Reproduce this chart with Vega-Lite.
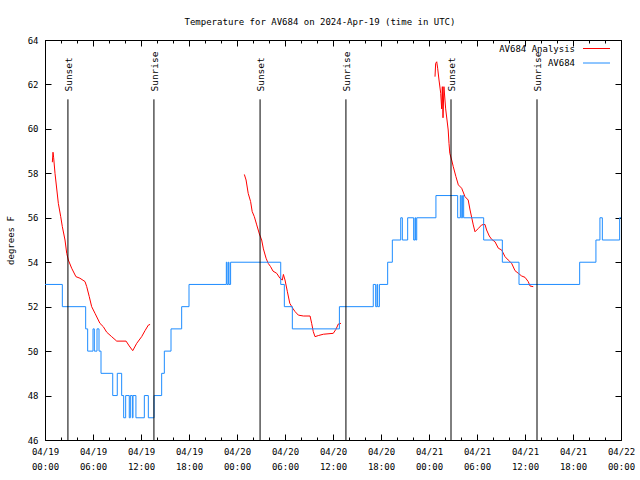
{
  "$schema": "https://vega.github.io/schema/vega-lite/v6.json",
  "width": 576,
  "height": 400,
  "autosize": {"type": "none"},
  "padding": {"left": 45, "top": 40, "right": 19, "bottom": 40},
  "background": "white",
  "title": {"text": "Temperature for AV684 on 2024-Apr-19 (time in UTC)", "font": "DejaVu Sans Mono", "fontSize": 9, "fontWeight": "normal", "anchor": "middle", "frame": "group", "dx": -13, "offset": 9, "color": "black"},
  "config": {
    "view": {"stroke": "black", "strokeWidth": 1},
    "font": "DejaVu Sans Mono",
    "axis": {"labelFont": "DejaVu Sans Mono", "labelFontSize": 9, "labelColor": "black", "tickColor": "black", "domain": false, "grid": false, "titleFont": "DejaVu Sans Mono", "titleFontSize": 9, "titleFontWeight": "normal", "titleColor": "black"},
    "legend": {"orient": "none", "legendX": 544, "legendY": 1, "padding": 0, "symbolType": "M-2,0H2", "symbolSize": 182.25, "symbolStrokeWidth": 1, "labelAlign": "right", "labelOffset": -29, "rowPadding": 1.5, "labelFont": "DejaVu Sans Mono", "labelFontSize": 9, "labelColor": "black"}
  },
  "datasets": {
    "red": [
      {"t": "2024-04-19T00:55:00Z", "v": 58.5, "s": "AV684 Analysis", "g": 1},
      {"t": "2024-04-19T01:00:00Z", "v": 58.95, "s": "AV684 Analysis", "g": 1},
      {"t": "2024-04-19T01:05:00Z", "v": 58.7, "s": "AV684 Analysis", "g": 1},
      {"t": "2024-04-19T01:15:00Z", "v": 58.0, "s": "AV684 Analysis", "g": 1},
      {"t": "2024-04-19T01:40:00Z", "v": 56.65, "s": "AV684 Analysis", "g": 1},
      {"t": "2024-04-19T01:58:00Z", "v": 56.05, "s": "AV684 Analysis", "g": 1},
      {"t": "2024-04-19T02:10:00Z", "v": 55.6, "s": "AV684 Analysis", "g": 1},
      {"t": "2024-04-19T02:30:00Z", "v": 55.0, "s": "AV684 Analysis", "g": 1},
      {"t": "2024-04-19T02:43:00Z", "v": 54.4, "s": "AV684 Analysis", "g": 1},
      {"t": "2024-04-19T02:55:00Z", "v": 54.1, "s": "AV684 Analysis", "g": 1},
      {"t": "2024-04-19T03:20:00Z", "v": 53.73, "s": "AV684 Analysis", "g": 1},
      {"t": "2024-04-19T03:52:00Z", "v": 53.35, "s": "AV684 Analysis", "g": 1},
      {"t": "2024-04-19T04:22:00Z", "v": 53.28, "s": "AV684 Analysis", "g": 1},
      {"t": "2024-04-19T05:00:00Z", "v": 53.13, "s": "AV684 Analysis", "g": 1},
      {"t": "2024-04-19T05:13:00Z", "v": 52.9, "s": "AV684 Analysis", "g": 1},
      {"t": "2024-04-19T05:32:00Z", "v": 52.45, "s": "AV684 Analysis", "g": 1},
      {"t": "2024-04-19T05:50:00Z", "v": 52.0, "s": "AV684 Analysis", "g": 1},
      {"t": "2024-04-19T06:15:00Z", "v": 51.7, "s": "AV684 Analysis", "g": 1},
      {"t": "2024-04-19T06:52:00Z", "v": 51.25, "s": "AV684 Analysis", "g": 1},
      {"t": "2024-04-19T07:17:00Z", "v": 51.1, "s": "AV684 Analysis", "g": 1},
      {"t": "2024-04-19T07:43:00Z", "v": 50.85, "s": "AV684 Analysis", "g": 1},
      {"t": "2024-04-19T08:20:00Z", "v": 50.65, "s": "AV684 Analysis", "g": 1},
      {"t": "2024-04-19T08:58:00Z", "v": 50.45, "s": "AV684 Analysis", "g": 1},
      {"t": "2024-04-19T10:08:00Z", "v": 50.45, "s": "AV684 Analysis", "g": 1},
      {"t": "2024-04-19T10:32:00Z", "v": 50.23, "s": "AV684 Analysis", "g": 1},
      {"t": "2024-04-19T10:58:00Z", "v": 50.02, "s": "AV684 Analysis", "g": 1},
      {"t": "2024-04-19T11:28:00Z", "v": 50.35, "s": "AV684 Analysis", "g": 1},
      {"t": "2024-04-19T12:05:00Z", "v": 50.65, "s": "AV684 Analysis", "g": 1},
      {"t": "2024-04-19T12:30:00Z", "v": 50.92, "s": "AV684 Analysis", "g": 1},
      {"t": "2024-04-19T12:55:00Z", "v": 51.17, "s": "AV684 Analysis", "g": 1},
      {"t": "2024-04-19T13:08:00Z", "v": 51.2, "s": "AV684 Analysis", "g": 1},
      {"t": "2024-04-20T00:55:00Z", "v": 57.95, "s": "AV684 Analysis", "g": 2},
      {"t": "2024-04-20T01:08:00Z", "v": 57.7, "s": "AV684 Analysis", "g": 2},
      {"t": "2024-04-20T01:24:00Z", "v": 57.1, "s": "AV684 Analysis", "g": 2},
      {"t": "2024-04-20T01:42:00Z", "v": 56.73, "s": "AV684 Analysis", "g": 2},
      {"t": "2024-04-20T01:54:00Z", "v": 56.28, "s": "AV684 Analysis", "g": 2},
      {"t": "2024-04-20T02:10:00Z", "v": 56.05, "s": "AV684 Analysis", "g": 2},
      {"t": "2024-04-20T02:28:00Z", "v": 55.68, "s": "AV684 Analysis", "g": 2},
      {"t": "2024-04-20T02:48:00Z", "v": 55.27, "s": "AV684 Analysis", "g": 2},
      {"t": "2024-04-20T03:05:00Z", "v": 55.0, "s": "AV684 Analysis", "g": 2},
      {"t": "2024-04-20T03:18:00Z", "v": 54.6, "s": "AV684 Analysis", "g": 2},
      {"t": "2024-04-20T03:38:00Z", "v": 54.18, "s": "AV684 Analysis", "g": 2},
      {"t": "2024-04-20T03:54:00Z", "v": 53.95, "s": "AV684 Analysis", "g": 2},
      {"t": "2024-04-20T04:12:00Z", "v": 53.8, "s": "AV684 Analysis", "g": 2},
      {"t": "2024-04-20T04:30:00Z", "v": 53.6, "s": "AV684 Analysis", "g": 2},
      {"t": "2024-04-20T04:58:00Z", "v": 53.5, "s": "AV684 Analysis", "g": 2},
      {"t": "2024-04-20T05:22:00Z", "v": 53.28, "s": "AV684 Analysis", "g": 2},
      {"t": "2024-04-20T05:40:00Z", "v": 53.2, "s": "AV684 Analysis", "g": 2},
      {"t": "2024-04-20T05:48:00Z", "v": 53.45, "s": "AV684 Analysis", "g": 2},
      {"t": "2024-04-20T06:00:00Z", "v": 53.2, "s": "AV684 Analysis", "g": 2},
      {"t": "2024-04-20T06:18:00Z", "v": 52.67, "s": "AV684 Analysis", "g": 2},
      {"t": "2024-04-20T06:36:00Z", "v": 52.15, "s": "AV684 Analysis", "g": 2},
      {"t": "2024-04-20T06:58:00Z", "v": 51.93, "s": "AV684 Analysis", "g": 2},
      {"t": "2024-04-20T07:15:00Z", "v": 51.78, "s": "AV684 Analysis", "g": 2},
      {"t": "2024-04-20T07:40:00Z", "v": 51.62, "s": "AV684 Analysis", "g": 2},
      {"t": "2024-04-20T08:18:00Z", "v": 51.58, "s": "AV684 Analysis", "g": 2},
      {"t": "2024-04-20T09:08:00Z", "v": 51.58, "s": "AV684 Analysis", "g": 2},
      {"t": "2024-04-20T09:20:00Z", "v": 51.25, "s": "AV684 Analysis", "g": 2},
      {"t": "2024-04-20T09:32:00Z", "v": 50.88, "s": "AV684 Analysis", "g": 2},
      {"t": "2024-04-20T09:45:00Z", "v": 50.65, "s": "AV684 Analysis", "g": 2},
      {"t": "2024-04-20T10:10:00Z", "v": 50.7, "s": "AV684 Analysis", "g": 2},
      {"t": "2024-04-20T10:48:00Z", "v": 50.76, "s": "AV684 Analysis", "g": 2},
      {"t": "2024-04-20T12:02:00Z", "v": 50.8, "s": "AV684 Analysis", "g": 2},
      {"t": "2024-04-20T12:22:00Z", "v": 50.98, "s": "AV684 Analysis", "g": 2},
      {"t": "2024-04-20T12:40:00Z", "v": 51.22, "s": "AV684 Analysis", "g": 2},
      {"t": "2024-04-20T13:00:00Z", "v": 51.25, "s": "AV684 Analysis", "g": 2},
      {"t": "2024-04-21T00:45:00Z", "v": 62.35, "s": "AV684 Analysis", "g": 3},
      {"t": "2024-04-21T00:50:00Z", "v": 62.95, "s": "AV684 Analysis", "g": 3},
      {"t": "2024-04-21T00:58:00Z", "v": 63.02, "s": "AV684 Analysis", "g": 3},
      {"t": "2024-04-21T01:05:00Z", "v": 62.73, "s": "AV684 Analysis", "g": 3},
      {"t": "2024-04-21T01:15:00Z", "v": 62.2, "s": "AV684 Analysis", "g": 3},
      {"t": "2024-04-21T01:28:00Z", "v": 61.6, "s": "AV684 Analysis", "g": 3},
      {"t": "2024-04-21T01:35:00Z", "v": 60.9, "s": "AV684 Analysis", "g": 3},
      {"t": "2024-04-21T01:40:00Z", "v": 61.9, "s": "AV684 Analysis", "g": 3},
      {"t": "2024-04-21T01:45:00Z", "v": 60.5, "s": "AV684 Analysis", "g": 3},
      {"t": "2024-04-21T01:52:00Z", "v": 61.9, "s": "AV684 Analysis", "g": 3},
      {"t": "2024-04-21T02:05:00Z", "v": 60.9, "s": "AV684 Analysis", "g": 3},
      {"t": "2024-04-21T02:15:00Z", "v": 60.4, "s": "AV684 Analysis", "g": 3},
      {"t": "2024-04-21T02:24:00Z", "v": 59.95, "s": "AV684 Analysis", "g": 3},
      {"t": "2024-04-21T02:30:00Z", "v": 59.35, "s": "AV684 Analysis", "g": 3},
      {"t": "2024-04-21T02:36:00Z", "v": 58.9, "s": "AV684 Analysis", "g": 3},
      {"t": "2024-04-21T02:50:00Z", "v": 58.6, "s": "AV684 Analysis", "g": 3},
      {"t": "2024-04-21T03:02:00Z", "v": 58.3, "s": "AV684 Analysis", "g": 3},
      {"t": "2024-04-21T03:22:00Z", "v": 57.85, "s": "AV684 Analysis", "g": 3},
      {"t": "2024-04-21T03:40:00Z", "v": 57.48, "s": "AV684 Analysis", "g": 3},
      {"t": "2024-04-21T04:05:00Z", "v": 57.33, "s": "AV684 Analysis", "g": 3},
      {"t": "2024-04-21T04:30:00Z", "v": 56.95, "s": "AV684 Analysis", "g": 3},
      {"t": "2024-04-21T04:54:00Z", "v": 56.8, "s": "AV684 Analysis", "g": 3},
      {"t": "2024-04-21T05:08:00Z", "v": 56.35, "s": "AV684 Analysis", "g": 3},
      {"t": "2024-04-21T05:32:00Z", "v": 55.68, "s": "AV684 Analysis", "g": 3},
      {"t": "2024-04-21T05:45:00Z", "v": 55.37, "s": "AV684 Analysis", "g": 3},
      {"t": "2024-04-21T06:10:00Z", "v": 55.52, "s": "AV684 Analysis", "g": 3},
      {"t": "2024-04-21T06:35:00Z", "v": 55.68, "s": "AV684 Analysis", "g": 3},
      {"t": "2024-04-21T07:00:00Z", "v": 55.7, "s": "AV684 Analysis", "g": 3},
      {"t": "2024-04-21T07:12:00Z", "v": 55.45, "s": "AV684 Analysis", "g": 3},
      {"t": "2024-04-21T07:32:00Z", "v": 55.18, "s": "AV684 Analysis", "g": 3},
      {"t": "2024-04-21T07:50:00Z", "v": 55.03, "s": "AV684 Analysis", "g": 3},
      {"t": "2024-04-21T08:15:00Z", "v": 54.92, "s": "AV684 Analysis", "g": 3},
      {"t": "2024-04-21T08:40:00Z", "v": 54.63, "s": "AV684 Analysis", "g": 3},
      {"t": "2024-04-21T09:05:00Z", "v": 54.55, "s": "AV684 Analysis", "g": 3},
      {"t": "2024-04-21T09:30:00Z", "v": 54.25, "s": "AV684 Analysis", "g": 3},
      {"t": "2024-04-21T09:54:00Z", "v": 54.1, "s": "AV684 Analysis", "g": 3},
      {"t": "2024-04-21T10:20:00Z", "v": 53.95, "s": "AV684 Analysis", "g": 3},
      {"t": "2024-04-21T10:45:00Z", "v": 53.62, "s": "AV684 Analysis", "g": 3},
      {"t": "2024-04-21T11:10:00Z", "v": 53.5, "s": "AV684 Analysis", "g": 3},
      {"t": "2024-04-21T11:35:00Z", "v": 53.38, "s": "AV684 Analysis", "g": 3},
      {"t": "2024-04-21T12:00:00Z", "v": 53.32, "s": "AV684 Analysis", "g": 3},
      {"t": "2024-04-21T12:24:00Z", "v": 53.13, "s": "AV684 Analysis", "g": 3},
      {"t": "2024-04-21T12:38:00Z", "v": 52.93, "s": "AV684 Analysis", "g": 3},
      {"t": "2024-04-21T13:02:00Z", "v": 52.9, "s": "AV684 Analysis", "g": 3}
    ],
    "blue": [
      {"t": "2024-04-19T00:00:00Z", "v": 53, "s": "AV684"},
      {"t": "2024-04-19T02:10:00Z", "v": 52, "s": "AV684"},
      {"t": "2024-04-19T05:05:00Z", "v": 51, "s": "AV684"},
      {"t": "2024-04-19T05:20:00Z", "v": 50, "s": "AV684"},
      {"t": "2024-04-19T06:00:00Z", "v": 51, "s": "AV684"},
      {"t": "2024-04-19T06:10:00Z", "v": 50, "s": "AV684"},
      {"t": "2024-04-19T06:30:00Z", "v": 51, "s": "AV684"},
      {"t": "2024-04-19T06:45:00Z", "v": 50, "s": "AV684"},
      {"t": "2024-04-19T07:00:00Z", "v": 49, "s": "AV684"},
      {"t": "2024-04-19T08:28:00Z", "v": 48, "s": "AV684"},
      {"t": "2024-04-19T09:02:00Z", "v": 49, "s": "AV684"},
      {"t": "2024-04-19T09:35:00Z", "v": 48, "s": "AV684"},
      {"t": "2024-04-19T09:50:00Z", "v": 47, "s": "AV684"},
      {"t": "2024-04-19T10:05:00Z", "v": 48, "s": "AV684"},
      {"t": "2024-04-19T10:32:00Z", "v": 47, "s": "AV684"},
      {"t": "2024-04-19T10:40:00Z", "v": 48, "s": "AV684"},
      {"t": "2024-04-19T10:55:00Z", "v": 47, "s": "AV684"},
      {"t": "2024-04-19T11:00:00Z", "v": 48, "s": "AV684"},
      {"t": "2024-04-19T11:22:00Z", "v": 47, "s": "AV684"},
      {"t": "2024-04-19T12:25:00Z", "v": 48, "s": "AV684"},
      {"t": "2024-04-19T12:55:00Z", "v": 47, "s": "AV684"},
      {"t": "2024-04-19T13:38:00Z", "v": 48, "s": "AV684"},
      {"t": "2024-04-19T14:35:00Z", "v": 49, "s": "AV684"},
      {"t": "2024-04-19T14:55:00Z", "v": 50, "s": "AV684"},
      {"t": "2024-04-19T15:45:00Z", "v": 51, "s": "AV684"},
      {"t": "2024-04-19T17:05:00Z", "v": 52, "s": "AV684"},
      {"t": "2024-04-19T18:00:00Z", "v": 53, "s": "AV684"},
      {"t": "2024-04-19T22:40:00Z", "v": 54, "s": "AV684"},
      {"t": "2024-04-19T22:45:00Z", "v": 53, "s": "AV684"},
      {"t": "2024-04-19T22:55:00Z", "v": 54, "s": "AV684"},
      {"t": "2024-04-19T23:00:00Z", "v": 53, "s": "AV684"},
      {"t": "2024-04-19T23:12:00Z", "v": 54, "s": "AV684"},
      {"t": "2024-04-20T05:28:00Z", "v": 53, "s": "AV684"},
      {"t": "2024-04-20T05:55:00Z", "v": 52, "s": "AV684"},
      {"t": "2024-04-20T06:55:00Z", "v": 51, "s": "AV684"},
      {"t": "2024-04-20T12:48:00Z", "v": 52, "s": "AV684"},
      {"t": "2024-04-20T17:02:00Z", "v": 53, "s": "AV684"},
      {"t": "2024-04-20T17:20:00Z", "v": 52, "s": "AV684"},
      {"t": "2024-04-20T17:30:00Z", "v": 53, "s": "AV684"},
      {"t": "2024-04-20T17:35:00Z", "v": 52, "s": "AV684"},
      {"t": "2024-04-20T17:48:00Z", "v": 53, "s": "AV684"},
      {"t": "2024-04-20T18:50:00Z", "v": 54, "s": "AV684"},
      {"t": "2024-04-20T19:25:00Z", "v": 55, "s": "AV684"},
      {"t": "2024-04-20T20:28:00Z", "v": 56, "s": "AV684"},
      {"t": "2024-04-20T20:40:00Z", "v": 55, "s": "AV684"},
      {"t": "2024-04-20T21:20:00Z", "v": 56, "s": "AV684"},
      {"t": "2024-04-20T22:05:00Z", "v": 55, "s": "AV684"},
      {"t": "2024-04-20T22:15:00Z", "v": 56, "s": "AV684"},
      {"t": "2024-04-20T22:20:00Z", "v": 55, "s": "AV684"},
      {"t": "2024-04-20T22:28:00Z", "v": 56, "s": "AV684"},
      {"t": "2024-04-21T00:52:00Z", "v": 57, "s": "AV684"},
      {"t": "2024-04-21T03:35:00Z", "v": 56, "s": "AV684"},
      {"t": "2024-04-21T03:55:00Z", "v": 57, "s": "AV684"},
      {"t": "2024-04-21T04:02:00Z", "v": 56, "s": "AV684"},
      {"t": "2024-04-21T04:12:00Z", "v": 57, "s": "AV684"},
      {"t": "2024-04-21T04:20:00Z", "v": 56, "s": "AV684"},
      {"t": "2024-04-21T06:50:00Z", "v": 55, "s": "AV684"},
      {"t": "2024-04-21T09:10:00Z", "v": 54, "s": "AV684"},
      {"t": "2024-04-21T11:15:00Z", "v": 53, "s": "AV684"},
      {"t": "2024-04-21T18:50:00Z", "v": 54, "s": "AV684"},
      {"t": "2024-04-21T20:52:00Z", "v": 55, "s": "AV684"},
      {"t": "2024-04-21T21:22:00Z", "v": 56, "s": "AV684"},
      {"t": "2024-04-21T21:40:00Z", "v": 55, "s": "AV684"},
      {"t": "2024-04-21T23:50:00Z", "v": 56, "s": "AV684"},
      {"t": "2024-04-22T00:00:00Z", "v": 56, "s": "AV684"}
    ],
    "sun": [
      {"t": "2024-04-19T02:52:00Z", "ev": "Sunset"},
      {"t": "2024-04-19T13:37:00Z", "ev": "Sunrise"},
      {"t": "2024-04-20T02:53:00Z", "ev": "Sunset"},
      {"t": "2024-04-20T13:37:00Z", "ev": "Sunrise"},
      {"t": "2024-04-21T02:45:00Z", "ev": "Sunset"},
      {"t": "2024-04-21T13:30:00Z", "ev": "Sunrise"}
    ]
  },
  "resolve": {"axis": {"x": "independent", "y": "independent"}},
  "layer": [
    {
      "data": {"name": "red"},
      "mark": {"type": "line", "strokeWidth": 1, "interpolate": "linear"},
      "encoding": {
        "x": {"field": "t", "type": "temporal", "scale": {"type": "utc", "nice": false, "domain": [1713484800000, 1713744000000]},
              "axis": {"orient": "bottom", "title": null, "values": [1713484800000, 1713506400000, 1713528000000, 1713549600000, 1713571200000, 1713592800000, 1713614400000, 1713636000000, 1713657600000, 1713679200000, 1713700800000, 1713722400000, 1713744000000], "labelExpr": "utcFormat(datum.value, '%m/%d')", "tickSize": -6, "labelPadding": 13, "labelBaseline": "top", "labelOverlap": false, "labelFlush": false}},
        "y": {"field": "v", "type": "quantitative", "scale": {"domain": [46, 64], "nice": false, "zero": false},
              "axis": {"orient": "left", "title": "degrees F", "values": [46, 48, 50, 52, 54, 56, 58, 60, 62, 64], "tickSize": -6, "labelPadding": 13, "titlePadding": 12}},
        "color": {"field": "s", "type": "nominal", "scale": {"domain": ["AV684 Analysis", "AV684"], "range": ["#ff0000", "#1e8cff"]}, "legend": {"title": null}},
        "detail": {"field": "g", "type": "nominal"}
      }
    },
    {
      "data": {"name": "blue"},
      "mark": {"type": "line", "strokeWidth": 1, "interpolate": "step-after"},
      "encoding": {
        "x": {"field": "t", "type": "temporal", "axis": {"orient": "top", "title": null, "values": [1713484800000, 1713506400000, 1713528000000, 1713549600000, 1713571200000, 1713592800000, 1713614400000, 1713636000000, 1713657600000, 1713679200000, 1713700800000, 1713722400000, 1713744000000], "tickSize": -6, "labels": false}},
        "y": {"field": "v", "type": "quantitative", "axis": {"orient": "right", "title": null, "values": [46, 48, 50, 52, 54, 56, 58, 60, 62, 64], "tickSize": -6, "labels": false}},
        "color": {"field": "s", "type": "nominal"}
      }
    },
    {
      "data": {"name": "sun"},
      "mark": {"type": "rule", "color": "black", "strokeWidth": 1},
      "encoding": {
        "x": {"field": "t", "type": "temporal", "axis": {"orient": "bottom", "title": null, "values": [1713484800000, 1713492000000, 1713499200000, 1713506400000, 1713513600000, 1713520800000, 1713528000000, 1713535200000, 1713542400000, 1713549600000, 1713556800000, 1713564000000, 1713571200000, 1713578400000, 1713585600000, 1713592800000, 1713600000000, 1713607200000, 1713614400000, 1713621600000, 1713628800000, 1713636000000, 1713643200000, 1713650400000, 1713657600000, 1713664800000, 1713672000000, 1713679200000, 1713686400000, 1713693600000, 1713700800000, 1713708000000, 1713715200000, 1713722400000, 1713729600000, 1713736800000, 1713744000000], "tickSize": -3, "labelPadding": 25, "labelBaseline": "top", "labelOverlap": false, "labelFlush": false, "labelExpr": "utchours(datum.value) % 6 == 0 ? utcFormat(datum.value, '%H:%M') : ''"}},
        "y": {"datum": 61.33, "type": "quantitative", "axis": null},
        "y2": {"datum": 46}
      }
    },
    {
      "data": {"name": "sun"},
      "mark": {"type": "text", "angle": 270, "align": "left", "baseline": "middle", "font": "DejaVu Sans Mono", "fontSize": 9.5, "color": "black", "dy": 1},
      "encoding": {
        "x": {"field": "t", "type": "temporal", "axis": {"orient": "top", "title": null, "values": [1713484800000, 1713492000000, 1713499200000, 1713506400000, 1713513600000, 1713520800000, 1713528000000, 1713535200000, 1713542400000, 1713549600000, 1713556800000, 1713564000000, 1713571200000, 1713578400000, 1713585600000, 1713592800000, 1713600000000, 1713607200000, 1713614400000, 1713621600000, 1713628800000, 1713636000000, 1713643200000, 1713650400000, 1713657600000, 1713664800000, 1713672000000, 1713679200000, 1713686400000, 1713693600000, 1713700800000, 1713708000000, 1713715200000, 1713722400000, 1713729600000, 1713736800000, 1713744000000], "tickSize": -3, "labels": false}},
        "y": {"datum": 61.68, "type": "quantitative", "axis": null},
        "text": {"field": "ev", "type": "nominal"}
      }
    }
  ]
}
